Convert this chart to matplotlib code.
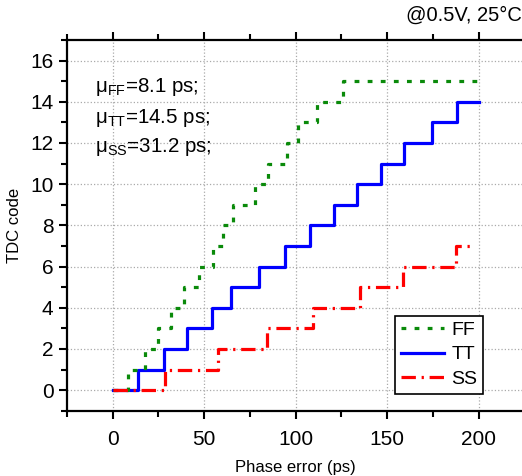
import numpy as np
import matplotlib
matplotlib.use("Agg")
import matplotlib.pyplot as plt
from matplotlib.ticker import MultipleLocator

plt.rcParams['font.family'] = ['Liberation Sans', 'DejaVu Sans']
plt.rcParams['mathtext.fontset'] = 'custom'
plt.rcParams['mathtext.rm'] = 'Liberation Sans'
plt.rcParams['mathtext.it'] = 'Liberation Sans:italic'

# step edges (phase error, ps) and TDC codes
ff_x = [0, 8.4, 17.5, 24.6, 32, 38.8, 47, 54.8, 60.3, 65.8, 78, 84.9, 95, 101, 111.5, 125.7, 200]
ff_y = [0, 1, 2, 3, 4, 5, 6, 7, 8, 9, 10, 11, 12, 13, 14, 15, 15]

tt_x = [0, 13.7, 27.9, 40.4, 54.1, 64.5, 79.8, 94, 107.7, 120.8, 133.3, 146.4, 159, 174.3, 188, 200]
tt_y = [0, 1, 2, 3, 4, 5, 6, 7, 8, 9, 10, 11, 12, 13, 14, 14]

ss_x = [0, 28.4, 57.4, 84.3, 109.3, 135, 158.5, 187.4, 196]
ss_y = [0, 1, 2, 3, 4, 5, 6, 7, 7]

notes = [r'μ$_{\mathrm{FF}}$=8.1 ps;', r'μ$_{\mathrm{TT}}$=14.5 ps;', r'μ$_{\mathrm{SS}}$=31.2 ps;']
note_y = [14.7, 13.2, 11.8]

fig = plt.figure(figsize=(5.22, 4.76), dpi=100)
# axes runs past the right edge of the figure, as in the cropped original
ax = fig.add_axes([0.128, 0.137, 0.912, 0.779])

ax.plot(ff_x, ff_y, drawstyle='steps-post', color='#0a8a0a', lw=2.3,
        dashes=(1.5, 2.6), label='FF', zorder=3)
ax.plot(tt_x, tt_y, drawstyle='steps-post', color='#0000ff', lw=2.3,
        label='TT', zorder=2)
ax.plot(ss_x, ss_y, drawstyle='steps-post', color='#ff0000', lw=2.3,
        dashes=(4.5, 1.8, 0.7, 1.8), label='SS', zorder=4)

ax.set_xlim(-25, 235)
ax.set_ylim(-1, 17)
ax.xaxis.set_major_locator(MultipleLocator(50))
ax.xaxis.set_minor_locator(MultipleLocator(25))
ax.yaxis.set_major_locator(MultipleLocator(2))
ax.yaxis.set_minor_locator(MultipleLocator(1))
ax.tick_params(which='both', direction='out', top=True, right=False, width=1.5, labelsize=15)
ax.tick_params(which='major', length=6)
ax.tick_params(which='minor', length=4)
ax.tick_params(axis='x', pad=8)
for s in ax.spines.values():
    s.set_linewidth(1.6)
ax.spines['right'].set_visible(False)
ax.grid(True, which='major', ls=':', color='#aaaaaa', lw=0.9)

ax.set_xlabel('Phase error (ps)', fontsize=12, labelpad=8)
ax.xaxis.label.set_x(0.481)  # centre under x=100 like the original
ax.set_ylabel('TDC code', fontsize=12, labelpad=6)

for t, y in zip(notes, note_y):
    ax.text(-9.8, y, t, fontsize=14.8, va='center', ha='left')

fig.text(0.999, 0.968, '@0.5V, 25°C', fontsize=14.5, ha='right', va='center')

leg = ax.legend(loc='lower right', bbox_to_anchor=(0.875, 0.046), borderaxespad=0,
                fontsize=14, handlelength=2.2, labelspacing=0.35, fancybox=False,
                framealpha=1, handletextpad=0.4, borderpad=0.3)
leg.get_frame().set_edgecolor('black')
leg.get_frame().set_linewidth(1.2)

plt.savefig('out.png', dpi=100)
